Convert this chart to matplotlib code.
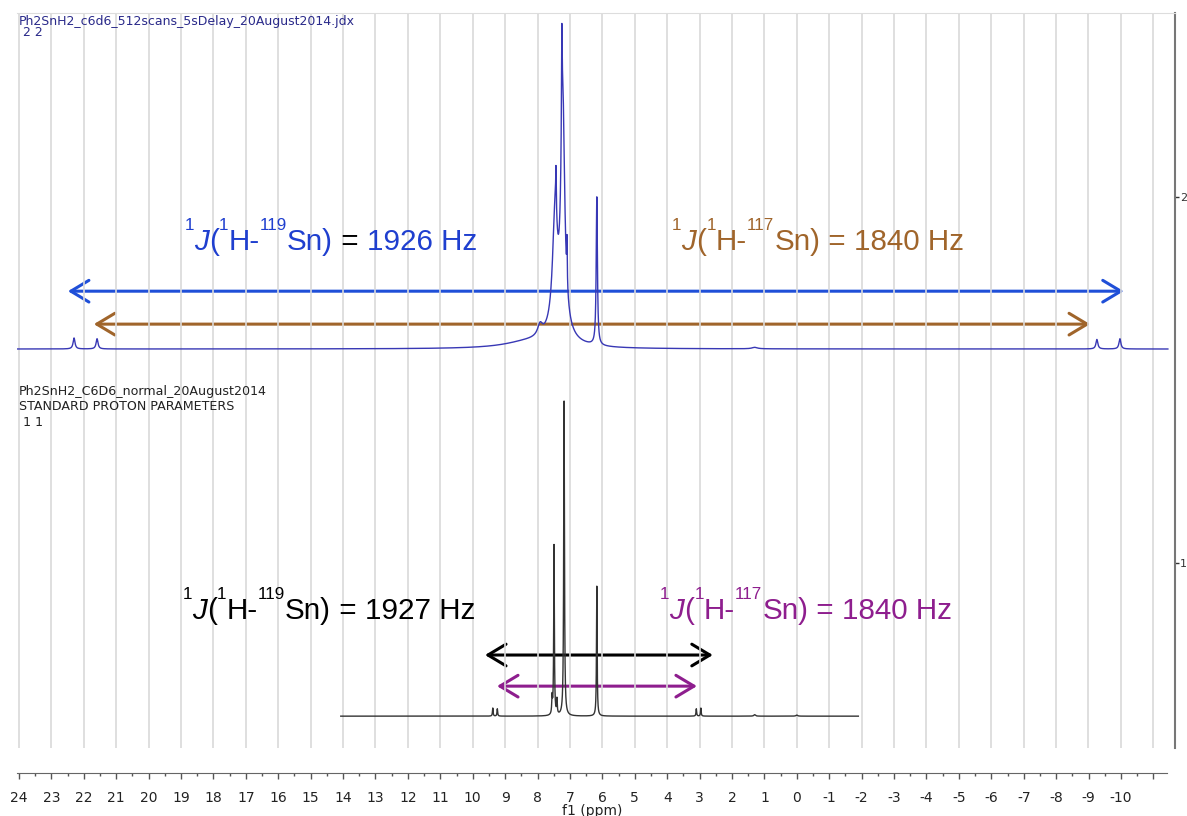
import numpy as np
import matplotlib.pyplot as plt
from matplotlib.patches import FancyArrowPatch
from matplotlib.ticker import MultipleLocator

W, H = 1187, 816

# 60 MHz trace (top): peak centre [ppm], height, half width [ppm]
top_ppm = [22.30, 21.59, 8.30, 7.92, 7.35, 7.46, 7.22, 7.43, 7.25, 7.09,
           6.17, 1.30, -9.26, -9.97]
top_height = [0.030, 0.028, 0.016, 0.030, 0.040, 0.30, 0.62, 0.12, 0.27, 0.12,
              0.405, 0.004, 0.026, 0.028]
top_hwhm = [0.035, 0.035, 0.90, 0.09, 0.40, 0.09, 0.07, 0.012, 0.012, 0.010,
            0.022, 0.10, 0.035, 0.035]
top_base = 1.585
top_range = (24.06, -11.45)

# 300 MHz trace (bottom)
bot_ppm = [9.38, 9.24, 7.55, 7.49, 7.40, 7.18, 6.17, 3.10, 2.96, 1.30, 0.0]
bot_height = [0.022, 0.020, 0.045, 0.465, 0.040, 0.860, 0.355, 0.020, 0.022, 0.004, 0.003]
bot_hwhm = [0.012, 0.012, 0.012, 0.012, 0.012, 0.014, 0.012, 0.012, 0.012, 0.03, 0.03]
bot_base = 0.582
bot_range = (14.07, -1.90)

# coupling arrows: (left ppm, right ppm, height, colour)
arrows = [
    (22.49, -10.09, 1.743, '#1f4fd8'),
    (21.69, -9.05, 1.653, '#a0652b'),
    (9.62, 2.59, 0.749, '#000000'),
    (9.25, 3.08, 0.664, '#8e1e8e'),
]

# coupling labels: (x ppm, baseline, isotope, J value, colour, colour of '=')
j_labels = [
    (18.88, 1.855, '119', '1926', '#1f3fcf', '#000000'),
    (3.85, 1.855, '117', '1840', '#a0652b', '#a0652b'),
    (18.94, 0.847, '119', '1927', '#000000', '#000000'),
    (4.22, 0.847, '117', '1840', '#8e1e8e', '#8e1e8e'),
]


def lorentz(x, pos, hgt, hw):
    y = np.zeros_like(x)
    for p, h, w in zip(pos, hgt, hw):
        y += h / (1 + ((x - p) / w) ** 2)
    return y


def rich_text(ax, x, y, parts, size):
    # chain the pieces left to right, all on the baseline of an empty anchor
    anchor = ax.text(x, y, '', fontsize=size)
    prev = anchor
    for s, kind, col in parts:
        if kind == 'sup':
            fs, dy, st = size * 0.58, size * 0.68, 'normal'
        else:
            fs, dy, st = size, 0, ('italic' if kind == 'it' else 'normal')
        prev = ax.annotate(s, xy=(1, 0), xycoords=(prev, anchor),
                           xytext=(0, dy), textcoords='offset points',
                           fontsize=fs, style=st, color=col,
                           va='baseline', ha='left', family='Liberation Sans')


fig = plt.figure(figsize=(W / 100, H / 100), dpi=100)

# main plotting area
ax = fig.add_axes([17 / W, 1 - 748 / H, (1175 - 17) / W, (748 - 13) / H])
ax.set_xlim(24.06, -11.67)
ax.set_ylim(0.495, 2.503)
ax.xaxis.set_major_locator(MultipleLocator(1))
ax.grid(axis='x', color='#d9d9d9', lw=1.2)
ax.tick_params(axis='x', bottom=False, labelbottom=False)
ax.yaxis.tick_right()
ax.set_yticks([1, 2])
ax.tick_params(axis='y', direction='out', length=3, width=1, colors='#333333',
               labelsize=8, pad=0.5)
ax.spines['left'].set_visible(False)
ax.spines['bottom'].set_visible(False)
ax.spines['top'].set_color('#dddddd')
ax.spines['right'].set_color('#777777')
ax.spines['right'].set_linewidth(1.5)

x_top = np.linspace(top_range[0], top_range[1], 40000)
ax.plot(x_top, top_base + lorentz(x_top, top_ppm, top_height, top_hwhm),
        color='#3838b5', lw=1.0)

x_bot = np.linspace(bot_range[0], bot_range[1], 40000)
ax.plot(x_bot, bot_base + lorentz(x_bot, bot_ppm, bot_height, bot_hwhm),
        color='#333333', lw=1.0)

for x0, x1, yy, c in arrows:
    ax.add_patch(FancyArrowPatch((x0, yy), (x1, yy),
                                 arrowstyle='<->,head_length=1.0,head_width=0.6',
                                 mutation_scale=13, color=c, lw=2.2,
                                 shrinkA=0, shrinkB=0))

for x0, y0, iso, jval, c, ceq in j_labels:
    parts = [('1', 'sup', c), ('J', 'it', c), ('(', 'n', c), ('1', 'sup', c),
             ('H-', 'n', c), (iso, 'sup', c), ('Sn)', 'n', c),
             (' = ', 'n', ceq), (jval + ' Hz', 'n', c)]
    rich_text(ax, x0, y0, parts, 21.3)

# file headers
def px(x, y):
    return x / W, 1 - y / H

fig.text(*px(19, 21), 'Ph2SnH2_c6d6_512scans_5sDelay_20August2014.jdx',
         fontsize=9, color='#2a2a8a', va='center')
fig.text(*px(19, 33), ' 2 2', fontsize=9, color='#2a2a8a', va='center')
fig.text(*px(19, 391), 'Ph2SnH2_C6D6_normal_20August2014',
         fontsize=9.1, color='#222222', va='center')
fig.text(*px(19, 407), 'STANDARD PROTON PARAMETERS',
         fontsize=9.1, color='#222222', va='center')
fig.text(*px(19, 422), ' 1 1', fontsize=9.1, color='#222222', va='center')

# ppm scale
ax2 = fig.add_axes([17 / W, 1 - 773 / H, (1167 - 17) / W, 0.0001])
ax2.set_xlim(24.06, -11.42)
ticks = np.arange(24, -12, -1)
ax2.set_xticks(ticks)
ax2.set_xticklabels([str(t) if t >= -10 else '' for t in ticks])
ax2.xaxis.set_minor_locator(MultipleLocator(0.5))
ax2.tick_params(axis='x', which='major', length=4, width=1, colors='#555555',
                labelcolor='#222222', labelsize=10, pad=9)
ax2.tick_params(axis='x', which='minor', length=2, width=1, colors='#555555')
ax2.set_yticks([])
for s in ['left', 'right', 'top']:
    ax2.spines[s].set_visible(False)
ax2.spines['bottom'].set_color('#666666')
ax2.patch.set_visible(False)
ax2.set_xlabel('f1 (ppm)', fontsize=10, labelpad=-1, color='#222222')

plt.savefig('out.png', dpi=100)
